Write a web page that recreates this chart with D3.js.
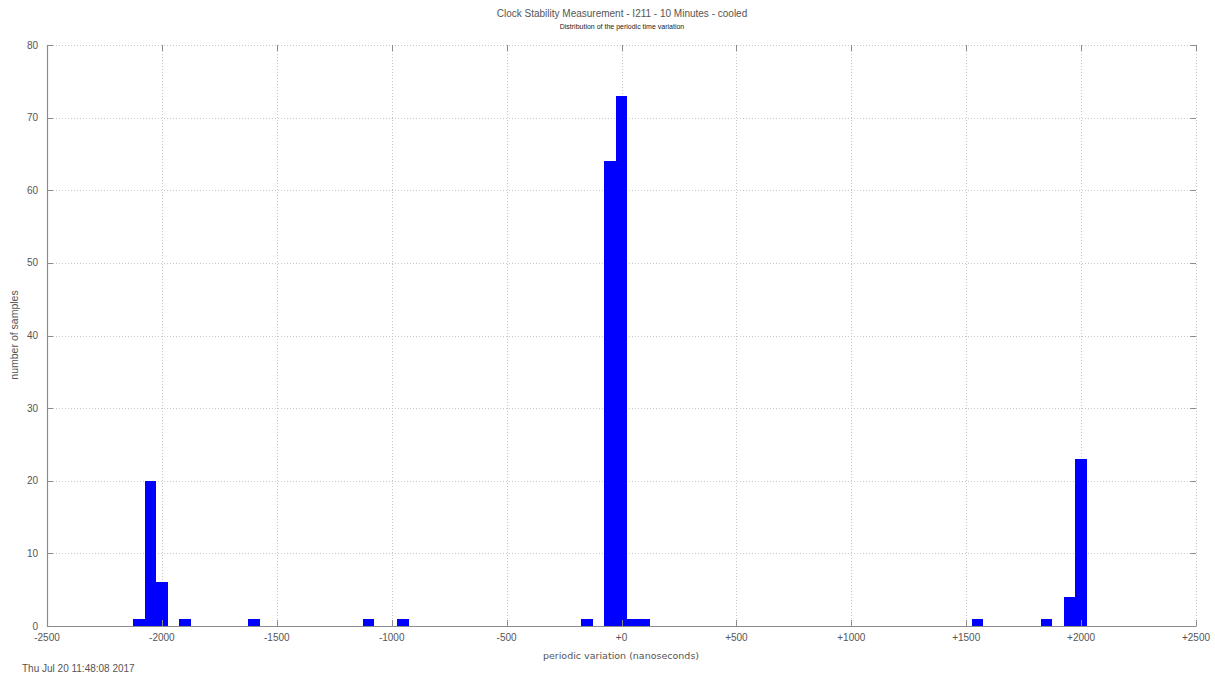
<!DOCTYPE html>
<html>
<head>
<meta charset="utf-8">
<script src="https://cdn.jsdelivr.net/npm/d3@7"></script>
<style>
  body { margin: 0; background: #fff; }
  svg text { font-family: "Liberation Sans", Arial, sans-serif; }
</style>
</head>
<body>
<svg id="chart" width="1215" height="677"></svg>
<script>
// histogram bins (centre, ns) and counts, bin width 50 ns
var binCenters = [-2100, -2050, -2000, -1900, -1600, -1100, -950, -150, -50, 0, 50, 100, 1550, 1850, 1950, 2000];
var binCounts  = [1, 20, 6, 1, 1, 1, 1, 1, 64, 73, 1, 1, 1, 1, 4, 23];
var binWidth = 50;

var xTicks = [-2500, -2000, -1500, -1000, -500, 0, 500, 1000, 1500, 2000, 2500];
var yTicks = [0, 10, 20, 30, 40, 50, 60, 70, 80];

var svg = d3.select("#chart");
// plot box (note: "top" is reserved on window, so use pTop etc.)
var pLeft = 47, pRight = 1196, pTop = 45, pBottom = 626;

var x = d3.scaleLinear().domain([-2500, 2500]).range([pLeft, pRight]);
var y = d3.scaleLinear().domain([0, 80]).range([pBottom, pTop]);

var fmtX = d => d > 0 ? "+" + d : (d === 0 ? "+0" : String(d));

// grid
svg.append("g").selectAll("line")
    .data(yTicks.filter(d => d > 0))
    .enter().append("line")
    .attr("x1", pLeft).attr("x2", pRight)
    .attr("y1", d => Math.round(y(d)) + 0.5).attr("y2", d => Math.round(y(d)) + 0.5)
    .attr("stroke", "#c8c8c8").attr("stroke-dasharray", "1,2");
svg.append("g").selectAll("line")
    .data(xTicks.filter(d => d > -2500))
    .enter().append("line")
    .attr("x1", d => Math.round(x(d)) + 0.5).attr("x2", d => Math.round(x(d)) + 0.5)
    .attr("y1", pTop).attr("y2", pBottom)
    .attr("stroke", "#c8c8c8").attr("stroke-dasharray", "1,2");

// bars, snapped to whole pixels so neighbouring bins merge like the original
svg.append("g").selectAll("rect")
    .data(binCenters.map((c, i) => ({c: c, n: binCounts[i]})))
    .enter().append("rect")
    .attr("x", d => Math.round(x(d.c - binWidth / 2)))
    .attr("width", d => Math.round(x(d.c + binWidth / 2)) - Math.round(x(d.c - binWidth / 2)))
    .attr("y", d => Math.round(y(d.n)))
    .attr("height", d => Math.round(y(0)) - Math.round(y(d.n)))
    .attr("fill", "#0000ff")
    .attr("shape-rendering", "crispEdges");

// axes: ticks inward on all four sides, only left/bottom solid
var axisColor = "#8c8c8c";
var tl = 6;
svg.append("line").attr("x1", pLeft + 0.5).attr("x2", pLeft + 0.5).attr("y1", pTop).attr("y2", pBottom)
    .attr("stroke", axisColor).attr("stroke-width", 1.2);
svg.append("line").attr("x1", pLeft).attr("x2", pRight + 0.5).attr("y1", pBottom + 0.5).attr("y2", pBottom + 0.5)
    .attr("stroke", axisColor).attr("stroke-width", 1.2);

var yt = svg.append("g");
yTicks.forEach(function (d) {
    var yy = Math.round(y(d)) + 0.5;
    yt.append("line").attr("x1", pLeft).attr("x2", pLeft + tl)
        .attr("y1", yy).attr("y2", yy).attr("stroke", axisColor);
    yt.append("line").attr("x1", pRight - tl).attr("x2", pRight)
        .attr("y1", yy).attr("y2", yy).attr("stroke", axisColor);
    yt.append("text").attr("x", pLeft - 9).attr("y", y(d) + 3.5)
        .attr("text-anchor", "end").style("font-size", "10px").attr("fill", "#555")
        .text(d);
});

var xt = svg.append("g");
xTicks.forEach(function (d) {
    var xx = Math.round(x(d)) + 0.5;
    xt.append("line").attr("x1", xx).attr("x2", xx)
        .attr("y1", pBottom - tl).attr("y2", pBottom).attr("stroke", axisColor);
    xt.append("line").attr("x1", xx).attr("x2", xx)
        .attr("y1", pTop).attr("y2", pTop + tl).attr("stroke", axisColor);
    xt.append("text").attr("x", x(d)).attr("y", pBottom + 15)
        .attr("text-anchor", "middle").style("font-size", "10px").attr("fill", "#555")
        .text(fmtX(d));
});

// titles and labels
svg.append("text").attr("x", 622).attr("y", 17).attr("text-anchor", "middle")
    .style("font-size", "10px").attr("fill", "#555")
    .text("Clock Stability Measurement - I211 - 10 Minutes - cooled");
svg.append("text").attr("x", 622).attr("y", 29).attr("text-anchor", "middle")
    .style("font-size", "7px").attr("fill", "#222")
    .text("Distribution of the periodic time variation");
svg.append("text").attr("transform", "translate(18,335) rotate(-90)").attr("text-anchor", "middle")
    .style("font-size", "10.5px").attr("fill", "#555")
    .text("number of samples");
svg.append("text").attr("x", 621).attr("y", 659).attr("text-anchor", "middle")
    .style("font-size", "9.5px").style("font-family", "'DejaVu Sans', sans-serif").attr("fill", "#555")
    .text("periodic variation (nanoseconds)");
svg.append("text").attr("x", 22).attr("y", 672)
    .style("font-size", "10px").attr("fill", "#555")
    .text("Thu Jul 20 11:48:08 2017");
</script>
</body>
</html>
